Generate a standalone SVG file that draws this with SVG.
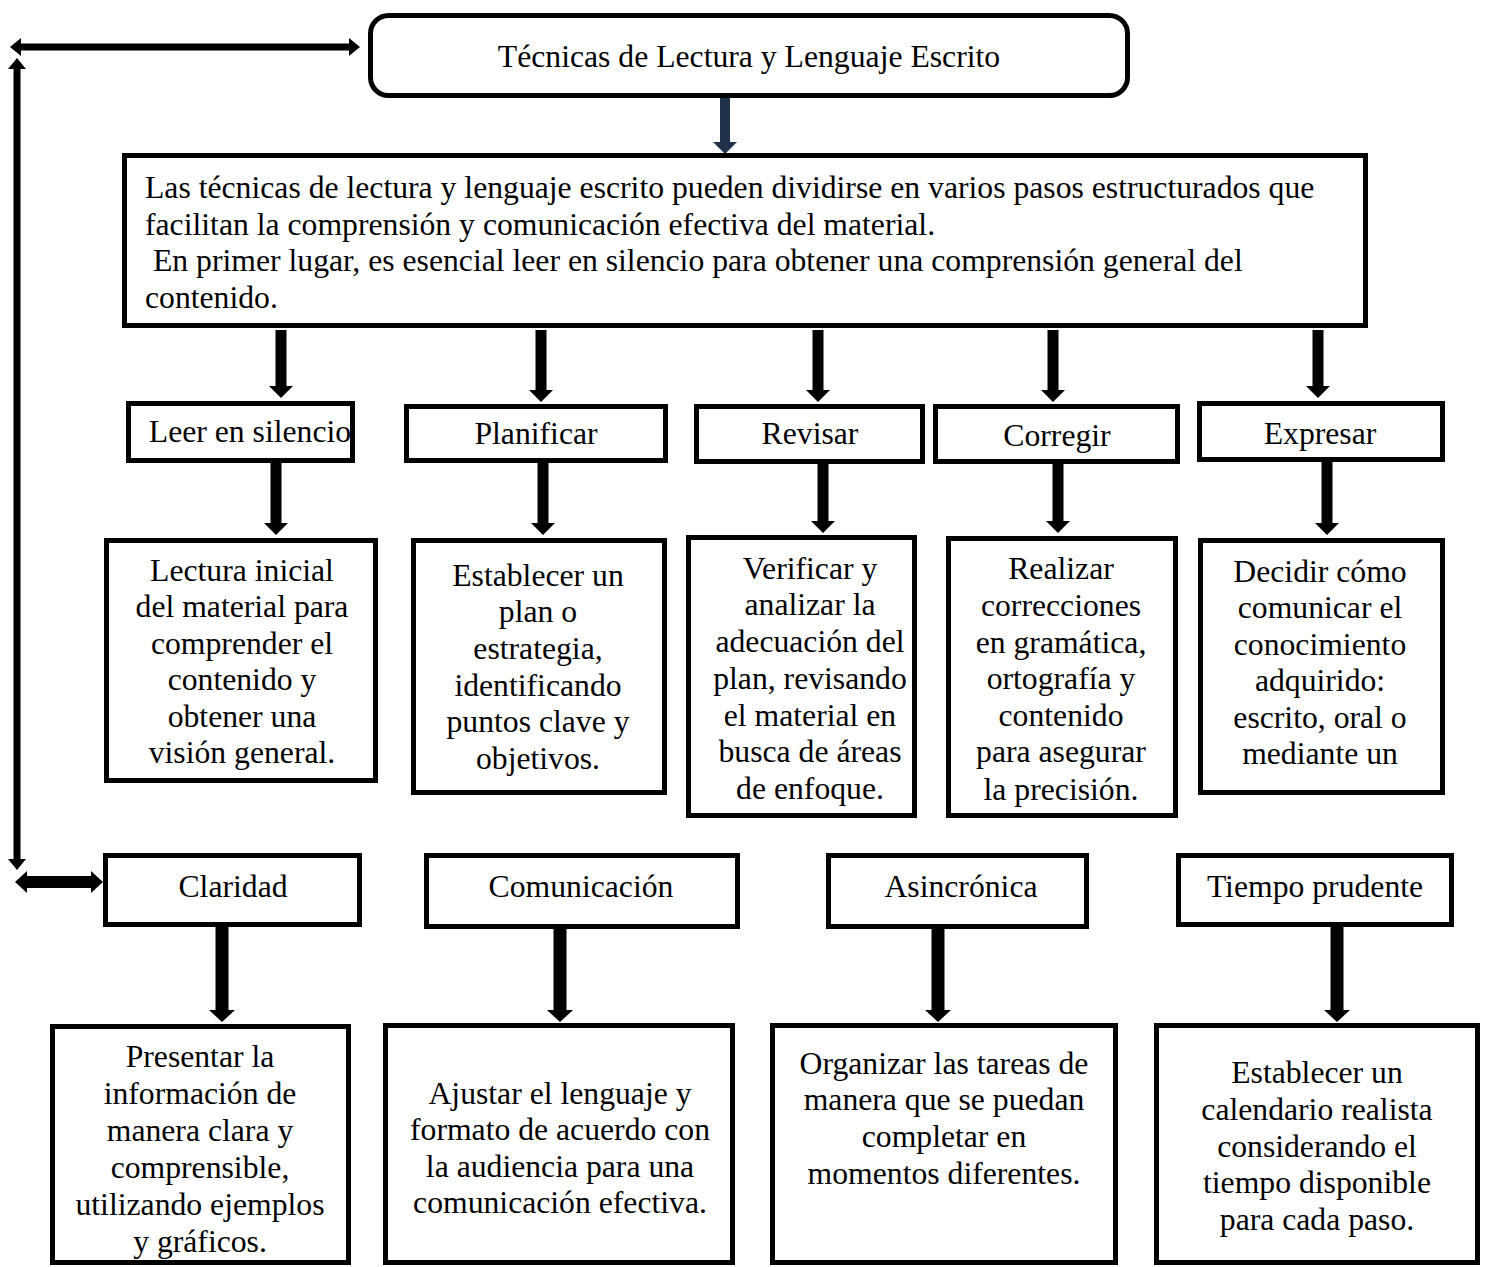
<svg xmlns="http://www.w3.org/2000/svg" width="1488" height="1267" viewBox="0 0 1488 1267">
<style>
.box{fill:#fff;stroke:#000;stroke-width:5;}
.t{font-family:"Liberation Serif","Times New Roman",serif;font-size:31.7px;fill:#000;}
.c{text-anchor:middle;}
.a{stroke:#000;stroke-width:11;fill:none;marker-end:url(#ah);}
.ab{stroke:#000;stroke-width:13;fill:none;marker-end:url(#ahb);}
</style>
<defs>
<marker id="ah" markerUnits="userSpaceOnUse" markerWidth="12" markerHeight="24" refX="0" refY="12" orient="auto"><path d="M0,0 L12,12 L0,24 z" fill="#000"/></marker>
<marker id="ahb" markerUnits="userSpaceOnUse" markerWidth="12" markerHeight="26" refX="0" refY="13" orient="auto"><path d="M0,0 L12,13 L0,26 z" fill="#000"/></marker>
<marker id="ahn" markerUnits="userSpaceOnUse" markerWidth="12" markerHeight="24" refX="0" refY="12" orient="auto"><path d="M0,0 L12,12 L0,24 z" fill="#1F3249"/></marker>
<marker id="ahs" markerUnits="userSpaceOnUse" markerWidth="11" markerHeight="18" refX="0" refY="9" orient="auto"><path d="M0,0 L11,9 L0,18 z" fill="#000"/></marker>
<marker id="ahs0" markerUnits="userSpaceOnUse" markerWidth="11" markerHeight="18" refX="11" refY="9" orient="auto"><path d="M11,0 L0,9 L11,18 z" fill="#000"/></marker>
<marker id="ahm" markerUnits="userSpaceOnUse" markerWidth="12" markerHeight="22" refX="0" refY="11" orient="auto"><path d="M0,0 L12,11 L0,22 z" fill="#000"/></marker>
<marker id="ahm0" markerUnits="userSpaceOnUse" markerWidth="12" markerHeight="22" refX="12" refY="11" orient="auto"><path d="M12,0 L0,11 L12,22 z" fill="#000"/></marker>
</defs>

<g id="connectors">
<line x1="21" y1="47" x2="349" y2="47" stroke="#000" stroke-width="7" marker-start="url(#ahs0)" marker-end="url(#ahs)"/>
<line x1="17" y1="69" x2="17" y2="859" stroke="#000" stroke-width="7" marker-start="url(#ahs0)" marker-end="url(#ahs)"/>
<line x1="27" y1="882" x2="91" y2="882" stroke="#000" stroke-width="12" marker-start="url(#ahm0)" marker-end="url(#ahm)"/>
<line x1="725" y1="97" x2="725" y2="142" stroke="#1F3249" stroke-width="10" marker-end="url(#ahn)"/>
<line class="a" x1="281" y1="330" x2="281" y2="386"/>
<line class="a" x1="541" y1="330" x2="541" y2="390"/>
<line class="a" x1="818" y1="330" x2="818" y2="390"/>
<line class="a" x1="1053" y1="330" x2="1053" y2="390"/>
<line class="a" x1="1318" y1="330" x2="1318" y2="386"/>
<line class="a" x1="276" y1="463" x2="276" y2="523"/>
<line class="a" x1="543" y1="463" x2="543" y2="523"/>
<line class="a" x1="823" y1="464" x2="823" y2="521"/>
<line class="a" x1="1058" y1="464" x2="1058" y2="521"/>
<line class="a" x1="1327" y1="462" x2="1327" y2="523"/>
<line class="ab" x1="222" y1="927" x2="222" y2="1010"/>
<line class="ab" x1="560" y1="929" x2="560" y2="1010"/>
<line class="ab" x1="938" y1="925" x2="938" y2="1010"/>
<line class="ab" x1="1337" y1="927" x2="1337" y2="1010"/>
</g>

<g id="title">
<rect class="box" x="370.5" y="15.5" width="757" height="80" rx="18"/>
<text class="t c" x="749" y="67">Técnicas de Lectura y Lenguaje Escrito</text>
</g>

<g id="intro">
<rect class="box" x="124.5" y="155.5" width="1241" height="170"/>
<text class="t" x="145" y="198">Las técnicas de lectura y lenguaje escrito pueden dividirse en varios pasos estructurados que</text>
<text class="t" x="145" y="235">facilitan la comprensión y comunicación efectiva del material.</text>
<text class="t" x="153" y="271">En primer lugar, es esencial leer en silencio para obtener una comprensión general del</text>
<text class="t" x="145" y="308">contenido.</text>
</g>

<g id="leer">
<rect class="box" x="128.5" y="403.5" width="224" height="57"/>
<text class="t c" x="250" y="442">Leer en silencio</text>
</g>
<g id="planificar">
<rect class="box" x="406.5" y="406.5" width="259" height="54"/>
<text class="t c" x="536" y="444">Planificar</text>
</g>
<g id="revisar">
<rect class="box" x="696.5" y="406.5" width="226" height="55"/>
<text class="t c" x="810" y="444">Revisar</text>
</g>
<g id="corregir">
<rect class="box" x="935.5" y="406.5" width="242" height="55"/>
<text class="t c" x="1057" y="446">Corregir</text>
</g>
<g id="expresar">
<rect class="box" x="1199.5" y="403.5" width="243" height="56"/>
<text class="t c" x="1320" y="444">Expresar</text>
</g>

<g id="leer-desc">
<rect class="box" x="106.5" y="540.5" width="269" height="240"/>
<text class="t c" x="242" y="581">Lectura inicial</text>
<text class="t c" x="242" y="617">del material para</text>
<text class="t c" x="242" y="654">comprender el</text>
<text class="t c" x="242" y="690">contenido y</text>
<text class="t c" x="242" y="727">obtener una</text>
<text class="t c" x="242" y="763">visión general.</text>
</g>
<g id="planificar-desc">
<rect class="box" x="413.5" y="540.5" width="251" height="252"/>
<text class="t c" x="538" y="586">Establecer un</text>
<text class="t c" x="538" y="622">plan o</text>
<text class="t c" x="538" y="659">estrategia,</text>
<text class="t c" x="538" y="696">identificando</text>
<text class="t c" x="538" y="732">puntos clave y</text>
<text class="t c" x="538" y="769">objetivos.</text>
</g>
<g id="revisar-desc">
<rect class="box" x="688.5" y="537.5" width="226" height="278"/>
<text class="t c" x="810" y="579">Verificar y</text>
<text class="t c" x="810" y="615">analizar la</text>
<text class="t c" x="810" y="652">adecuación del</text>
<text class="t c" x="810" y="689">plan, revisando</text>
<text class="t c" x="810" y="726">el material en</text>
<text class="t c" x="810" y="762">busca de áreas</text>
<text class="t c" x="810" y="799">de enfoque.</text>
</g>
<g id="corregir-desc">
<rect class="box" x="948.5" y="538.5" width="227" height="277"/>
<text class="t c" x="1061" y="579">Realizar</text>
<text class="t c" x="1061" y="616">correcciones</text>
<text class="t c" x="1061" y="653">en gramática,</text>
<text class="t c" x="1061" y="689">ortografía y</text>
<text class="t c" x="1061" y="726">contenido</text>
<text class="t c" x="1061" y="762">para asegurar</text>
<text class="t c" x="1061" y="800">la precisión.</text>
</g>
<g id="expresar-desc">
<rect class="box" x="1200.5" y="540.5" width="242" height="252"/>
<text class="t c" x="1320" y="582">Decidir cómo</text>
<text class="t c" x="1320" y="618">comunicar el</text>
<text class="t c" x="1320" y="655">conocimiento</text>
<text class="t c" x="1320" y="691">adquirido:</text>
<text class="t c" x="1320" y="728">escrito, oral o</text>
<text class="t c" x="1320" y="764">mediante un</text>
</g>

<g id="claridad">
<rect class="box" x="105.5" y="855.5" width="254" height="69"/>
<text class="t c" x="233" y="897">Claridad</text>
</g>
<g id="comunicacion">
<rect class="box" x="426.5" y="855.5" width="311" height="71"/>
<text class="t c" x="581" y="897">Comunicación</text>
</g>
<g id="asincronica">
<rect class="box" x="828.5" y="855.5" width="258" height="71"/>
<text class="t c" x="961" y="897">Asincrónica</text>
</g>
<g id="tiempo">
<rect class="box" x="1178.5" y="855.5" width="273" height="69"/>
<text class="t c" x="1315" y="897">Tiempo prudente</text>
</g>

<g id="claridad-desc">
<rect class="box" x="52.5" y="1026.5" width="296" height="236"/>
<text class="t c" x="200" y="1067">Presentar la</text>
<text class="t c" x="200" y="1104">información de</text>
<text class="t c" x="200" y="1141">manera clara y</text>
<text class="t c" x="200" y="1178">comprensible,</text>
<text class="t c" x="200" y="1215">utilizando ejemplos</text>
<text class="t c" x="200" y="1252">y gráficos.</text>
</g>
<g id="comunicacion-desc">
<rect class="box" x="385.5" y="1025.5" width="347" height="237"/>
<text class="t c" x="560" y="1104">Ajustar el lenguaje y</text>
<text class="t c" x="560" y="1140">formato de acuerdo con</text>
<text class="t c" x="560" y="1177">la audiencia para una</text>
<text class="t c" x="560" y="1213">comunicación efectiva.</text>
</g>
<g id="asincronica-desc">
<rect class="box" x="772.5" y="1025.5" width="343" height="237"/>
<text class="t c" x="944" y="1074">Organizar las tareas de</text>
<text class="t c" x="944" y="1110">manera que se puedan</text>
<text class="t c" x="944" y="1147">completar en</text>
<text class="t c" x="944" y="1184">momentos diferentes.</text>
</g>
<g id="tiempo-desc">
<rect class="box" x="1156.5" y="1025.5" width="321" height="237"/>
<text class="t c" x="1317" y="1083">Establecer un</text>
<text class="t c" x="1317" y="1120">calendario realista</text>
<text class="t c" x="1317" y="1157">considerando el</text>
<text class="t c" x="1317" y="1193">tiempo disponible</text>
<text class="t c" x="1317" y="1230">para cada paso.</text>
</g>
</svg>
